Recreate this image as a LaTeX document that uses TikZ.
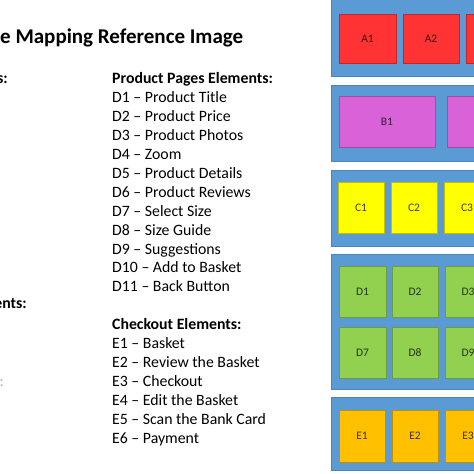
\documentclass[tikz,border=0pt]{standalone}
\usepackage{fontspec}
\setmainfont{Carlito}
\definecolor{panelblue}{HTML}{5B9BD5}
\definecolor{cred}{HTML}{FF3333}
\definecolor{cmag}{HTML}{DA62D8}
\definecolor{cyel}{HTML}{FFFF00}
\definecolor{cgreen}{HTML}{92D050}
\definecolor{corange}{HTML}{FFC000}
\tikzset{
  panel/.style={fill=panelblue, draw=panelblue!85!black, line width=0.5pt},
  cell/.style={draw=#1!75!black, fill=#1, line width=0.5pt, inner sep=0pt,
    text=#1!25!black, font=\fontsize{11.5}{13}\selectfont},
  listtxt/.style={anchor=base west, inner sep=0pt, font=\fontsize{15.8}{19}\selectfont},
  headtxt/.style={anchor=base west, inner sep=0pt, font=\fontsize{15.8}{19}\selectfont\bfseries},
  fragtxt/.style={anchor=base east, inner sep=0pt, font=\fontsize{15.8}{19}\selectfont\bfseries},
}
\begin{document}
\begin{tikzpicture}[x=1pt, y=-1pt]
\useasboundingbox (0,0) rectangle (474,474);
\clip (0,0) rectangle (474,474);
\fill[white] (0,0) rectangle (474,474);

% Title and fragments of the left column
\node[anchor=base west, inner sep=0pt, font=\fontsize{21}{25}\selectfont\bfseries] (title) at (0,43) {e Mapping Reference Image};
\node[fragtxt] (fs) at (8,83) {s:};
\node[fragtxt] (fents) at (27,308) {ents:};
\node[fragtxt, text=gray!60, font=\fontsize{15.8}{19}\selectfont] (fcolon) at (4,386) {:};

% Product pages list
\node[headtxt] (dh) at (112,83) {Product Pages Elements:};
\node[listtxt] (d1) at (112,102) {D1 – Product Title};
\node[listtxt] (d2) at (112,121) {D2 – Product Price};
\node[listtxt] (d3) at (112,140) {D3 – Product Photos};
\node[listtxt] (d4) at (112,159) {D4 – Zoom};
\node[listtxt] (d5) at (112,178) {D5 – Product Details};
\node[listtxt] (d6) at (112,197) {D6 – Product Reviews};
\node[listtxt] (d7) at (112,216) {D7 – Select Size};
\node[listtxt] (d8) at (112,235) {D8 – Size Guide};
\node[listtxt] (d9) at (112,254) {D9 – Suggestions};
\node[listtxt] (d10) at (112,272.5) {D10 – Add to Basket};
\node[listtxt] (d11) at (112,291.5) {D11 – Back Button};

% Checkout list
\node[headtxt] (eh) at (112,329) {Checkout Elements:};
\node[listtxt] (e1) at (112,348) {E1 – Basket};
\node[listtxt] (e2) at (112,367) {E2 – Review the Basket};
\node[listtxt] (e3) at (112,386) {E3 – Checkout};
\node[listtxt] (e4) at (112,405) {E4 – Edit the Basket};
\node[listtxt] (e5) at (112,424) {E5 – Scan the Bank Card};
\node[listtxt] (e6) at (112,443) {E6 – Payment};

% Panels
\draw[panel] (331,-5) rectangle (490,76);
\draw[panel] (331,85) rectangle (490,161);
\draw[panel] (331,170) rectangle (490,246);
\draw[panel] (331,254) rectangle (490,389);
\draw[panel] (331,397) rectangle (490,470.5);

% A row
\node[cell=cred, minimum width=57pt, minimum height=49pt] (ca1) at (367.5,38.5) {A1};
\node[cell=cred, minimum width=56pt, minimum height=49pt] (ca2) at (431,38.5) {A2};
\node[cell=cred, minimum width=56pt, minimum height=49pt] (ca3) at (494,38.5) {A3};

% B row
\node[cell=cmag, minimum width=96pt, minimum height=51pt] (cb1) at (387,121.5) {B1};
\node[cell=cmag, minimum width=96pt, minimum height=51pt] (cb2) at (495,121.5) {B2};

% C row
\node[cell=cyel, minimum width=46pt, minimum height=51pt] (cc1) at (361,207.5) {C1};
\node[cell=cyel, minimum width=46pt, minimum height=51pt] (cc2) at (414,207.5) {C2};
\node[cell=cyel, minimum width=46pt, minimum height=51pt] (cc3) at (467,207.5) {C3};

% D rows
\node[cell=cgreen, minimum width=47pt, minimum height=51pt] (cd1) at (362.5,291.5) {D1};
\node[cell=cgreen, minimum width=46pt, minimum height=51pt] (cd2) at (415,291.5) {D2};
\node[cell=cgreen, minimum width=46pt, minimum height=51pt] (cd3) at (468,291.5) {D3};
\node[cell=cgreen, minimum width=47pt, minimum height=51pt] (cd7) at (362.5,352.5) {D7};
\node[cell=cgreen, minimum width=46pt, minimum height=51pt] (cd8) at (415,352.5) {D8};
\node[cell=cgreen, minimum width=46pt, minimum height=51pt] (cd9) at (468,352.5) {D9};

% E row
\node[cell=corange, minimum width=46pt, minimum height=52pt] (ce1) at (362,436) {E1};
\node[cell=corange, minimum width=46pt, minimum height=52pt] (ce2) at (415,436) {E2};
\node[cell=corange, minimum width=46pt, minimum height=52pt] (ce3) at (468,436) {E3};
\end{tikzpicture}
\end{document}
